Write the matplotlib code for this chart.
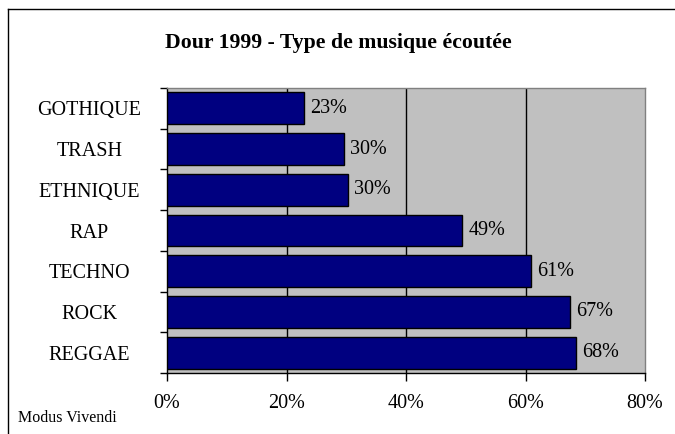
import numpy as np
import matplotlib.pyplot as plt
from matplotlib.lines import Line2D

categories = ["GOTHIQUE", "TRASH", "ETHNIQUE", "RAP", "TECHNO", "ROCK", "REGGAE"]
values = [23.0, 29.7, 30.3, 49.4, 61.0, 67.4, 68.4]
xticks = [0, 20, 40, 60, 80]
title = "Dour 1999 - Type de musique écoutée"
source = "Modus Vivendi"

W, H = 675, 434
plt.rcParams['font.family'] = ['Liberation Serif', 'DejaVu Serif']

fig = plt.figure(figsize=(W / 100, H / 100), dpi=100)
ax = fig.add_axes([167 / W, 1 - 373 / H, (645 - 167) / W, (373 - 88) / H])

ypos = np.arange(len(categories))
ax.barh(ypos, values, height=0.78, color="#000080", edgecolor="black", linewidth=1, zorder=3)
for y, v in zip(ypos, values):
    ax.text(v + 1.0, y, f"{v:.0f}%", va="center", ha="left", fontsize=14.5, zorder=4)

ax.set_xlim(0, 80)
ax.set_ylim(len(categories) - 0.5, -0.5)
ax.set_facecolor("#C0C0C0")
ax.set_xticks(xticks)
ax.set_xticklabels([f"{t}%" for t in xticks], fontsize=14.5)
ax.tick_params(axis="x", direction="out", length=6, width=1, pad=9)

ax.set_yticks(ypos)
ax.set_yticklabels(categories, fontsize=14.5)
for lab in ax.get_yticklabels():
    lab.set_horizontalalignment("center")
ax.tick_params(axis="y", which="major", length=0, pad=56)
ax.set_yticks(np.arange(-0.5, len(categories)), minor=True)
ax.tick_params(axis="y", which="minor", direction="out", length=5, width=1)

for t in xticks[1:-1]:
    ax.axvline(t, color="black", linewidth=1, zorder=1)

ax.spines["left"].set_color("black")
ax.spines["bottom"].set_color("black")
ax.spines["top"].set_color("#808080")
ax.spines["right"].set_color("#808080")
for s in ax.spines.values():
    s.set_linewidth(1)

fig.text(338 / W, 1 - 43 / H, title, ha="center", va="center", fontsize=15.7, fontweight="bold")
fig.text(18 / W, 1 - 418 / H, source, ha="left", va="center", fontsize=11.5)

fig.add_artist(Line2D([8 / W, 1], [1 - 9 / H, 1 - 9 / H], color="black", linewidth=1))
fig.add_artist(Line2D([8 / W, 8 / W], [0, 1 - 9 / H], color="black", linewidth=1))

fig.savefig("out.png", dpi=100)
